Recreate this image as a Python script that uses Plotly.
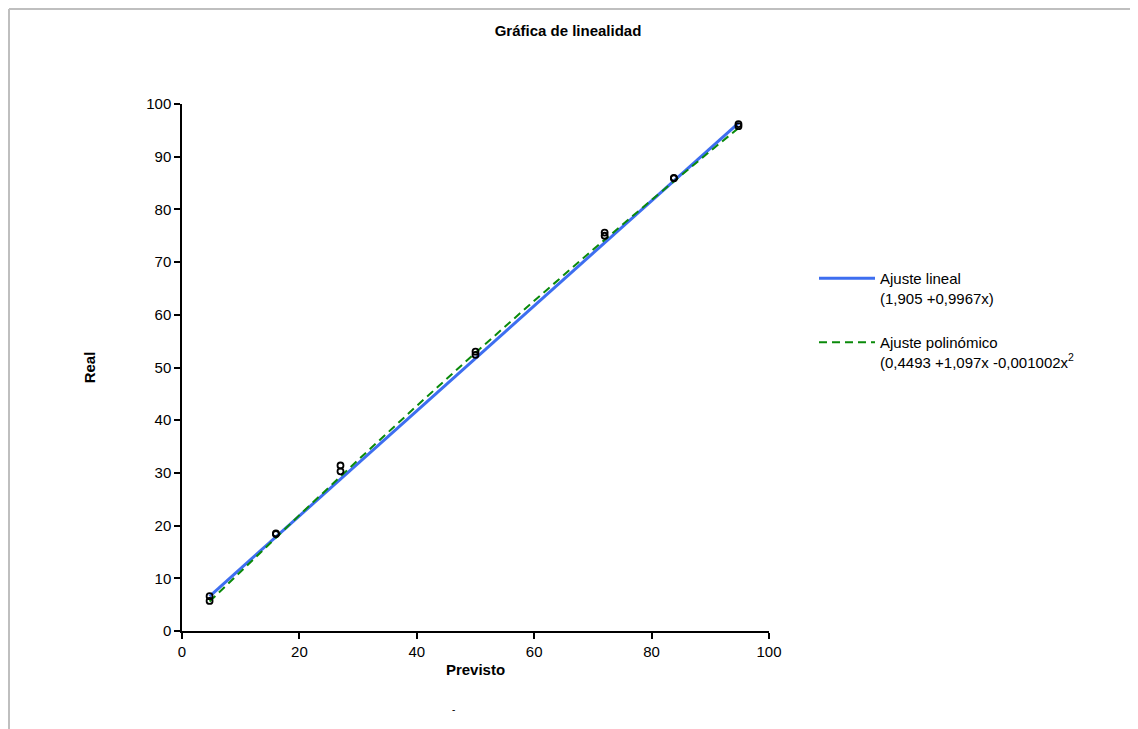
import plotly.graph_objects as go

# Data
previsto = [4.7, 4.7, 16.0, 16.0, 27.0, 27.0, 50.0, 50.0, 72.0, 72.0, 83.8, 83.8, 94.8, 94.8]
real = [5.7, 6.6, 18.4, 18.5, 30.3, 31.4, 52.4, 53.0, 75.0, 75.6, 85.9, 86.0, 95.8, 96.2]

# Fit coefficients shown in the legend
lin_coef = [1.905, 0.9967]
poly_coef = [0.4493, 1.097, -0.001002]
fit_x = [4.7, 10, 20, 30, 40, 50, 60, 70, 80, 90, 94.8]

lin_y = [lin_coef[0] + lin_coef[1] * x for x in fit_x]
poly_y = [poly_coef[0] + poly_coef[1] * x + poly_coef[2] * x * x for x in fit_x]

x_ticks = [0, 20, 40, 60, 80, 100]
y_ticks = [0, 10, 20, 30, 40, 50, 60, 70, 80, 90, 100]

FONT = "Liberation Sans"

fig = go.Figure()
fig.add_trace(go.Scatter(
    x=fit_x, y=lin_y, mode="lines", legendgroup="a",
    name="Ajuste lineal<br>(1,905 +0,9967x)",
    line=dict(color="#3D6EF0", width=3),
))
fig.add_trace(go.Scatter(
    x=fit_x, y=poly_y, mode="lines", legendgroup="b",
    name="Ajuste polinómico<br>(0,4493 +1,097x -0,001002x<sup>2</sup>",
    line=dict(color="#0A8A0A", width=2, dash="8px,5px"),
))
fig.add_trace(go.Scatter(
    x=previsto, y=real, mode="markers", showlegend=False,
    marker=dict(symbol="circle-open", size=6, color="black", line=dict(width=1.8, color="black")),
))

OFF = 8  # page offset of the figure
W, H = 1138 - OFF, 729 - OFF
L, T = 182 - OFF, 104 - OFF
pw, ph = 587, 527
R, B = W - L - pw, H - T - ph

def px_x(px):
    return (px - OFF - L) / pw

def px_y(py):
    return 1 - (py - OFF - T) / ph

fig.update_layout(
    width=W, height=H,
    margin=dict(l=L, r=R, t=T, b=B),
    paper_bgcolor="white", plot_bgcolor="white",
    font=dict(family=FONT, color="black", size=15),
    title=dict(text="<b>Gráfica de linealidad</b>", x=(568 - OFF) / W, xanchor="center",
               y=1 - (31 - OFF) / H, yanchor="middle", font=dict(size=15, family=FONT)),
    xaxis=dict(range=[0, 100], tickvals=x_ticks, showgrid=False, zeroline=False,
               showline=True, linecolor="black", linewidth=1.5,
               ticks="outside", ticklen=6, tickcolor="black", tickwidth=1.5,
               tickfont=dict(size=15),
               title=dict(text="<b>Previsto</b>", font=dict(size=15), standoff=6)),
    yaxis=dict(range=[0, 100], tickvals=y_ticks, showgrid=False, zeroline=False,
               showline=True, linecolor="black", linewidth=1.5,
               ticks="outside", ticklen=6, tickcolor="black", tickwidth=1.5,
               tickfont=dict(size=15),
               title=dict(text="<b>Real</b>", font=dict(size=15), standoff=47)),
    legend=dict(x=px_x(814), y=px_y(262), xanchor="left", yanchor="top",
                valign="top", font=dict(size=15), itemwidth=56,
                tracegroupgap=22, bgcolor="rgba(0,0,0,0)"),
    showlegend=True,
)

fig.add_annotation(text="-", xref="paper", yref="paper", x=px_x(453), y=px_y(717),
                   showarrow=False, font=dict(size=10, color="black"))

# chart frame (top and left gray border)
x0 = px_x(OFF + 1)
y_top = px_y(OFF + 1)
fig.add_shape(type="line", xref="paper", yref="paper", x0=x0, x1=px_x(1140),
              y0=y_top, y1=y_top, line=dict(color="#BFBFBF", width=2))
fig.add_shape(type="line", xref="paper", yref="paper", x0=x0, x1=x0,
              y0=y_top, y1=px_y(730), line=dict(color="#BFBFBF", width=2))

fig.write_html("out.html")
